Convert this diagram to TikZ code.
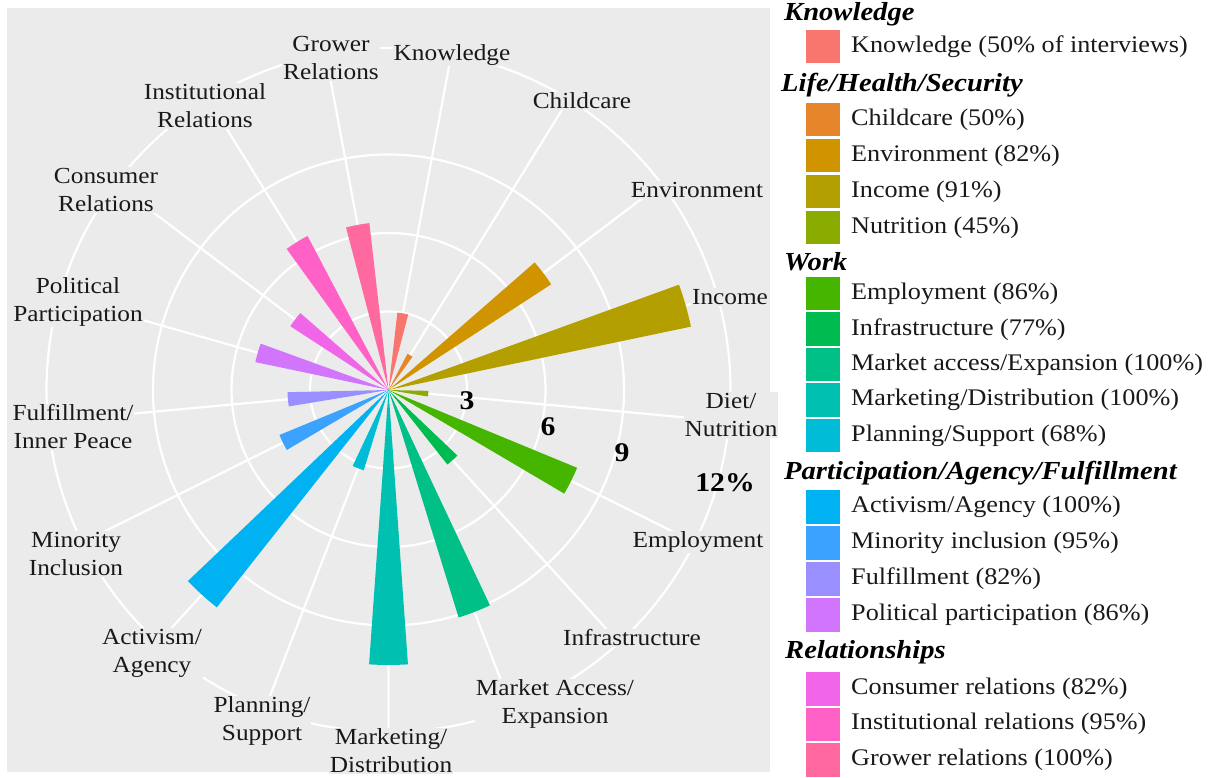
\documentclass[tikz,border=0pt]{standalone}
\usepackage{fontspec}
\setmainfont{Liberation Serif}[FakeStretch=1.1]
\definecolor{panel}{HTML}{EBEBEB}
\definecolor{cKno}{HTML}{F8766D}
\definecolor{cChi}{HTML}{E7852B}
\definecolor{cEnv}{HTML}{D09400}
\definecolor{cInc}{HTML}{B3A000}
\definecolor{cNut}{HTML}{8AAB00}
\definecolor{cEmp}{HTML}{45B500}
\definecolor{cInf}{HTML}{00BB50}
\definecolor{cMkA}{HTML}{00C087}
\definecolor{cMkD}{HTML}{00C0B1}
\definecolor{cPla}{HTML}{00BCD6}
\definecolor{cAct}{HTML}{00B2F1}
\definecolor{cMin}{HTML}{3BA3FF}
\definecolor{cFul}{HTML}{9A8FFF}
\definecolor{cPol}{HTML}{D175FD}
\definecolor{cCon}{HTML}{F166E8}
\definecolor{cIns}{HTML}{FF61C7}
\definecolor{cGro}{HTML}{FF699F}
\newcommand\legitem[4]{%
  \fill[#3] (806,{777-#2}) rectangle (840,{777-#2-33.5});
  \node[legtext] (#1) at (851,{777-#2-16.75}) {#4};
}
\begin{document}
\begin{tikzpicture}[x=1pt,y=1pt,
  grid/.style={draw=white, line width=2.2pt},
  lab/.style={fill=panel, inner sep=1pt, align=center, text=black!90,
    font=\fontsize{23}{28}\selectfont},
  axnum/.style={inner sep=0pt, text=black, font=\bfseries\fontsize{27}{30}\selectfont},
  legtext/.style={anchor=west, inner sep=0pt, text=black!90, font=\fontsize{23.8}{28}\selectfont},
  head/.style={anchor=west, inner sep=0pt, text=black, font=\bfseries\itshape\fontsize{26}{30}\selectfont}]
\useasboundingbox (0,0) rectangle (1220,777);
\fill[white] (0,0) rectangle (1220,777);
\fill[panel] (7,5) rectangle (770,769);
\coordinate (C) at (388.5,387);
% grid
\foreach \r in {78.5,157,235.5,342} \draw[grid] (C) circle[radius=\r];
\foreach \i in {0,...,16} {
  \pgfmathsetmacro\a{79.41-21.176*\i}
  \draw[grid] (C) -- ++(\a:342);
}
% bars
\foreach \i/\r/\c in {0/78/cKno,1/41/cChi,2/194/cEnv,3/309/cInc,4/40/cNut,
  5/204/cEmp,6/95/cInf,7/238/cMkA,8/275/cMkD,9/84/cPla,10/277/cAct,
  11/118/cMin,12/101/cFul,13/136/cPol,14/117/cCon,15/174/cIns,16/168/cGro} {
  \pgfmathsetmacro\a{79.41-21.176*\i}
  \pgfmathsetmacro\aa{\a-4.05}
  \pgfmathsetmacro\ab{\a+4.05}
  \fill[\c] (C) -- ++(\aa:\r) arc[start angle=\aa, end angle=\ab, radius=\r] -- cycle;
}
% category labels
\node[lab] (lGro) at (331,719) {Grower\\Relations};
\node[lab] (lKno) at (452,722) {Knowledge};
\node[lab] (lChi) at (582,676) {Childcare};
\node[lab] (lEnv) at (697,587) {Environment};
\node[lab] (lInc) at (730,480) {Income};
\node[lab] (lNut) at (731,362) {Diet/\\Nutrition};
\node[lab] (lEmp) at (698,235) {Employment};
\node[lab] (lInf) at (632,139) {Infrastructure};
\node[lab] (lMkA) at (555,73) {Market Access/\\Expansion};
\node[lab] (lMkD) at (391,26) {Marketing/\\Distribution};
\node[lab] (lPla) at (262,56) {Planning/\\Support};
\node[lab] (lAct) at (152,124) {Activism/\\Agency};
\node[lab] (lMin) at (76,223) {Minority\\Inclusion};
\node[lab] (lFul) at (73,350) {Fulfillment/\\Inner Peace};
\node[lab] (lPol) at (78,475) {Political\\Participation};
\node[lab] (lCon) at (106,587) {Consumer\\Relations};
\node[lab] (lIns) at (205,671) {Institutional\\Relations};
% radial axis numbers
\node[axnum] (n3) at (467,376) {3};
\node[axnum] (n6) at (548,350) {6};
\node[axnum] (n9) at (622,324) {9};
\node[axnum] (n12) at (725,294) {12\%};
% legend
\node[head] (hKno) at (784,763) {Knowledge};
\legitem{kKno}{30}{cKno}{Knowledge (50\% of interviews)}
\node[head] (hLif) at (781,692) {Life/Health/Security};
\legitem{kChi}{103}{cChi}{Childcare (50\%)}
\legitem{kEnv}{139}{cEnv}{Environment (82\%)}
\legitem{kInc}{175}{cInc}{Income (91\%)}
\legitem{kNut}{211}{cNut}{Nutrition (45\%)}
\node[head] (hWor) at (784,515) {Work};
\legitem{kEmp}{277}{cEmp}{Employment (86\%)}
\legitem{kInf}{312.5}{cInf}{Infrastructure (77\%)}
\legitem{kMkA}{348}{cMkA}{Market access/Expansion (100\%)}
\legitem{kMkD}{383.5}{cMkD}{Marketing/Distribution (100\%)}
\legitem{kPla}{419}{cPla}{Planning/Support (68\%)}
\node[head] (hPar) at (784,304) {Participation/Agency/Fulfillment};
\legitem{kAct}{490}{cAct}{Activism/Agency (100\%)}
\legitem{kMin}{526}{cMin}{Minority inclusion (95\%)}
\legitem{kFul}{562}{cFul}{Fulfillment (82\%)}
\legitem{kPol}{598}{cPol}{Political participation (86\%)}
\node[head] (hRel) at (785,125) {Relationships};
\legitem{kCon}{672}{cCon}{Consumer relations (82\%)}
\legitem{kIns}{707.5}{cIns}{Institutional relations (95\%)}
\legitem{kGro}{743}{cGro}{Grower relations (100\%)}
\end{tikzpicture}
\end{document}
